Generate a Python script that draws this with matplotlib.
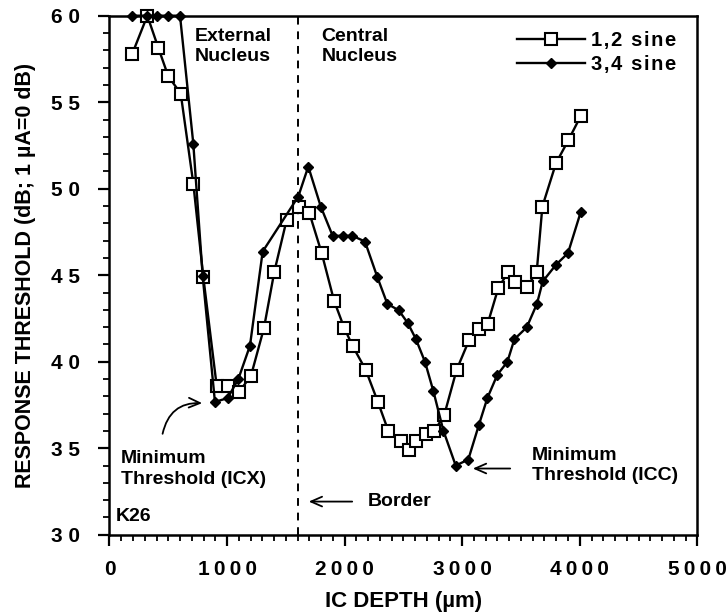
import numpy as np
import matplotlib
matplotlib.use("Agg")
import matplotlib.pyplot as plt
from matplotlib.ticker import MultipleLocator, FuncFormatter

plt.rcParams['font.family'] = ['Liberation Sans', 'DejaVu Sans']
plt.rcParams['font.weight'] = 'bold'

# 1,2 sine (open squares)
depth_12 = [194, 322, 415, 500, 606, 713, 798, 912, 1011, 1102, 1204, 1314, 1402,
            1507, 1612, 1700, 1805, 1910, 1997, 2069, 2179, 2284, 2372, 2477, 2548,
            2605, 2690, 2763, 2848, 2953, 3058, 3143, 3217, 3307, 3393, 3449, 3549,
            3634, 3682, 3798, 3903, 4008]
thr_12 = [57.8, 60.0, 58.15, 56.5, 55.5, 50.3, 44.9, 38.6, 38.6, 38.25, 39.2, 41.95,
          45.2, 48.2, 48.94, 48.6, 46.28, 43.53, 41.95, 40.9, 39.54, 37.66, 36.0,
          35.44, 34.92, 35.44, 35.83, 35.98, 36.94, 39.54, 41.24, 41.9, 42.2, 44.26,
          45.2, 44.6, 44.3, 45.2, 48.97, 51.48, 52.8, 54.2]

# 3,4 sine (filled diamonds)
depth_34 = [189, 322, 407, 500, 600, 713, 793, 897, 1005, 1096, 1195, 1303, 1606,
            1691, 1797, 1898, 1989, 2066, 2173, 2278, 2363, 2461, 2537, 2605, 2684,
            2755, 2840, 2945, 3052, 3143, 3214, 3299, 3384, 3444, 3549, 3636, 3685,
            3797, 3900, 4008]
thr_34 = [60.0, 60.0, 60.0, 60.0, 60.0, 52.6, 44.93, 37.68, 37.9, 39.0, 40.93, 46.37,
          49.55, 51.28, 48.97, 47.28, 47.28, 47.28, 46.95, 44.9, 43.35, 42.97, 42.24,
          41.33, 39.99, 38.3, 36.02, 34.0, 34.35, 36.37, 37.9, 39.25, 39.99, 41.3,
          41.99, 43.35, 44.64, 45.6, 46.28, 48.65]

border_depth = 1606

def spaced(s, sep='\u2009'):
    # the original figure uses letter-spaced labels
    return sep.join(s)

fig = plt.figure(figsize=(7.26, 6.15), dpi=100)
ax = fig.add_axes([0.1508, 0.1304, 0.8097, 0.8441])

ax.plot(depth_12, thr_12, '-s', color='black', lw=1.7, ms=8, mfc='white',
        mec='black', mew=1.5, label=spaced('1,2 sine', '\u200a'), clip_on=False, zorder=3)
ax.plot(depth_34, thr_34, '-D', color='black', lw=1.7, ms=5, mfc='black',
        mec='black', label=spaced('3,4 sine', '\u200a'), clip_on=False, zorder=4)

ax.axvline(border_depth, color='black', lw=1.4, ls=(0, (4, 3.5)), zorder=2)

ax.set_xlim(0, 5000)
ax.set_ylim(30, 60)
ax.xaxis.set_major_locator(MultipleLocator(1000))
ax.xaxis.set_minor_locator(MultipleLocator(100))
ax.yaxis.set_major_locator(MultipleLocator(5))
ax.yaxis.set_minor_locator(MultipleLocator(1))
ax.xaxis.set_major_formatter(FuncFormatter(lambda v, p: spaced(f'{v:.0f}')))
ax.yaxis.set_major_formatter(FuncFormatter(lambda v, p: ' '.join(f'{v:.0f}')))
ax.tick_params(which='major', direction='out', length=8, width=1.6, labelsize=15)
ax.tick_params(which='minor', direction='out', length=4, width=1.3)
ax.tick_params(axis='x', which='major', pad=10)
ax.tick_params(axis='y', which='major', pad=13)
for s in ax.spines.values():
    s.set_linewidth(1.8)

ax.set_xlabel('IC DEPTH (µm)', fontsize=16, fontweight='bold', labelpad=9)
ax.set_ylabel('RESPONSE THRESHOLD (dB; 1 µA=0 dB)', fontsize=15.5,
              fontweight='bold', labelpad=11)

ax.legend(loc='upper right', bbox_to_anchor=(0.965, 0.97), frameon=False,
          handlelength=3.4, handletextpad=0.3, labelspacing=0.25,
          borderpad=0, borderaxespad=0, prop={'weight': 'bold', 'size': 14.5})

fs = 14
ax.text(727, 58.22, 'External\nNucleus', fontsize=fs, fontweight='bold',
        ha='left', va='center', linespacing=1.2)
ax.text(1805, 58.22, 'Central\nNucleus', fontsize=fs, fontweight='bold',
        ha='left', va='center', linespacing=1.2)
ax.text(98, 33.8, 'Minimum\nThreshold (ICX)', fontsize=fs, fontweight='bold',
        ha='left', va='center', linespacing=1.25)
ax.text(3594, 34.0, 'Minimum\nThreshold (ICC)', fontsize=fs, fontweight='bold',
        ha='left', va='center', linespacing=1.25)
ax.text(55, 31.06, 'K26', fontsize=fs, fontweight='bold', ha='left', va='center')
ax.text(2199, 31.92, 'Border', fontsize=fs, fontweight='bold', ha='left', va='center')

arr = dict(arrowstyle='->,head_length=0.8,head_width=0.35', color='black', lw=1.3)
ax.annotate('', xy=(1671, 31.92), xytext=(2088, 31.92), arrowprops=arr)
ax.annotate('', xy=(3067, 33.83), xytext=(3432, 33.83), arrowprops=arr)
ax.annotate('', xy=(812, 37.6), xytext=(447, 35.68),
            arrowprops=dict(arr, connectionstyle='arc3,rad=-0.45'))

fig.savefig('out.png', dpi=100)
